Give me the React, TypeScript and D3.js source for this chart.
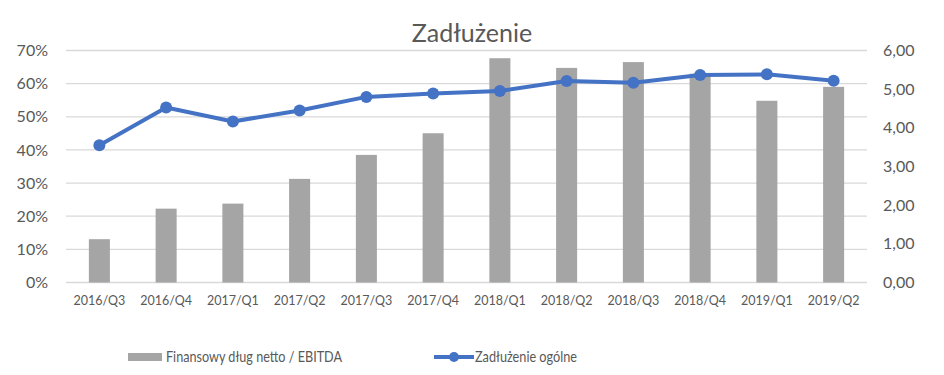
import React, { useEffect, useRef } from 'react';
import * as d3 from 'd3';

const quarters = ['2016/Q3', '2016/Q4', '2017/Q1', '2017/Q2', '2017/Q3', '2017/Q4', '2018/Q1', '2018/Q2', '2018/Q3', '2018/Q4', '2019/Q1', '2019/Q2'];
// Finansowy dług netto / EBITDA (right axis)
const debtToEbitda = [1.12, 1.91, 2.04, 2.68, 3.3, 3.86, 5.8, 5.55, 5.7, 5.4, 4.7, 5.06];
// Zadłużenie ogólne, % (left axis)
const totalDebt = [41.4, 52.8, 48.6, 51.9, 56.0, 57.0, 57.8, 60.8, 60.3, 62.6, 62.8, 60.9];
const leftTicks = [0, 10, 20, 30, 40, 50, 60, 70];
const rightTicks = [0, 1, 2, 3, 4, 5, 6];

const W = 944;
const H = 375;
const margin = { top: 50.5, right: 77, bottom: 92.5, left: 66 };
const font = 'Lato, "Liberation Sans", sans-serif';
const textColor = '#595959';

const App = () => {
  const ref = useRef<SVGSVGElement>(null);

  useEffect(() => {
    const svg = d3.select(ref.current);
    svg.selectAll('*').remove();

    const x = d3.scaleBand().domain(quarters).range([margin.left, W - margin.right]).paddingInner(0).paddingOuter(0);
    const yL = d3.scaleLinear().domain([0, 70]).range([H - margin.bottom, margin.top]);
    const yR = d3.scaleLinear().domain([0, 6]).range([H - margin.bottom, margin.top]);
    const barW = x.bandwidth() * 0.315;
    const cx = (q: string) => (x(q) as number) + x.bandwidth() / 2;

    // gridlines
    svg.append('g')
      .selectAll('line')
      .data(leftTicks)
      .join('line')
      .attr('x1', margin.left)
      .attr('x2', W - margin.right)
      .attr('y1', d => yL(d))
      .attr('y2', d => yL(d))
      .attr('stroke', '#d9d9d9')
      .attr('stroke-width', 1.3);

    // left axis labels
    svg.append('g')
      .selectAll('text')
      .data(leftTicks)
      .join('text')
      .attr('x', 48)
      .attr('y', d => yL(d))
      .attr('dy', '0.35em')
      .attr('text-anchor', 'end')
      .attr('font-size', 16)
      .attr('font-family', font)
      .attr('fill', textColor)
      .text(d => `${d}%`);

    // right axis labels
    svg.append('g')
      .selectAll('text')
      .data(rightTicks)
      .join('text')
      .attr('x', 883)
      .attr('y', d => yR(d))
      .attr('dy', '0.35em')
      .attr('text-anchor', 'start')
      .attr('font-size', 16)
      .attr('font-family', font)
      .attr('fill', textColor)
      .text(d => d3.format('.2f')(d).replace('.', ','));

    // bars
    svg.append('g')
      .selectAll('rect')
      .data(quarters)
      .join('rect')
      .attr('x', q => cx(q) - barW / 2)
      .attr('width', barW)
      .attr('y', (q, i) => yR(debtToEbitda[i]))
      .attr('height', (q, i) => yR(0) - yR(debtToEbitda[i]))
      .attr('fill', '#a5a5a5');

    // x labels
    svg.append('g')
      .selectAll('text')
      .data(quarters)
      .join('text')
      .attr('x', q => cx(q))
      .attr('y', 305)
      .attr('text-anchor', 'middle')
      .attr('font-size', 12.5)
      .attr('font-family', font)
      .attr('fill', textColor)
      .text(q => q);

    // line
    const line = d3.line<number>()
      .x((d, i) => cx(quarters[i]))
      .y(d => yL(d));

    svg.append('path')
      .datum(totalDebt)
      .attr('d', line)
      .attr('fill', 'none')
      .attr('stroke', '#4472c4')
      .attr('stroke-width', 4)
      .attr('stroke-linejoin', 'round');

    svg.append('g')
      .selectAll('circle')
      .data(totalDebt)
      .join('circle')
      .attr('cx', (d, i) => cx(quarters[i]))
      .attr('cy', d => yL(d))
      .attr('r', 6)
      .attr('fill', '#4472c4');

    // title
    svg.append('text')
      .attr('x', 472)
      .attr('y', 42)
      .attr('text-anchor', 'middle')
      .attr('font-size', 25)
      .attr('font-family', font)
      .attr('fill', textColor)
      .text('Zadłużenie');

    // legend
    const lg = svg.append('g');
    lg.append('rect').attr('x', 128).attr('y', 353).attr('width', 34).attr('height', 8).attr('fill', '#a5a5a5');
    lg.append('text').attr('x', 166).attr('y', 357).attr('dy', '0.35em')
      .attr('font-size', 15).attr('font-family', font).attr('fill', textColor)
      .attr('textLength', 176).attr('lengthAdjust', 'spacingAndGlyphs')
      .text('Finansowy dług netto / EBITDA');
    lg.append('line').attr('x1', 434).attr('x2', 474).attr('y1', 357).attr('y2', 357)
      .attr('stroke', '#4472c4').attr('stroke-width', 4);
    lg.append('circle').attr('cx', 454).attr('cy', 357).attr('r', 5).attr('fill', '#4472c4');
    lg.append('text').attr('x', 475).attr('y', 357).attr('dy', '0.35em')
      .attr('font-size', 15).attr('font-family', font).attr('fill', textColor)
      .attr('textLength', 102).attr('lengthAdjust', 'spacingAndGlyphs')
      .text('Zadłużenie ogólne');
  }, []);

  return (
    <svg ref={ref} width={W} height={H} style={{ position: 'absolute', left: 0, top: 0, background: '#fff' }} />
  );
};

export default App;
